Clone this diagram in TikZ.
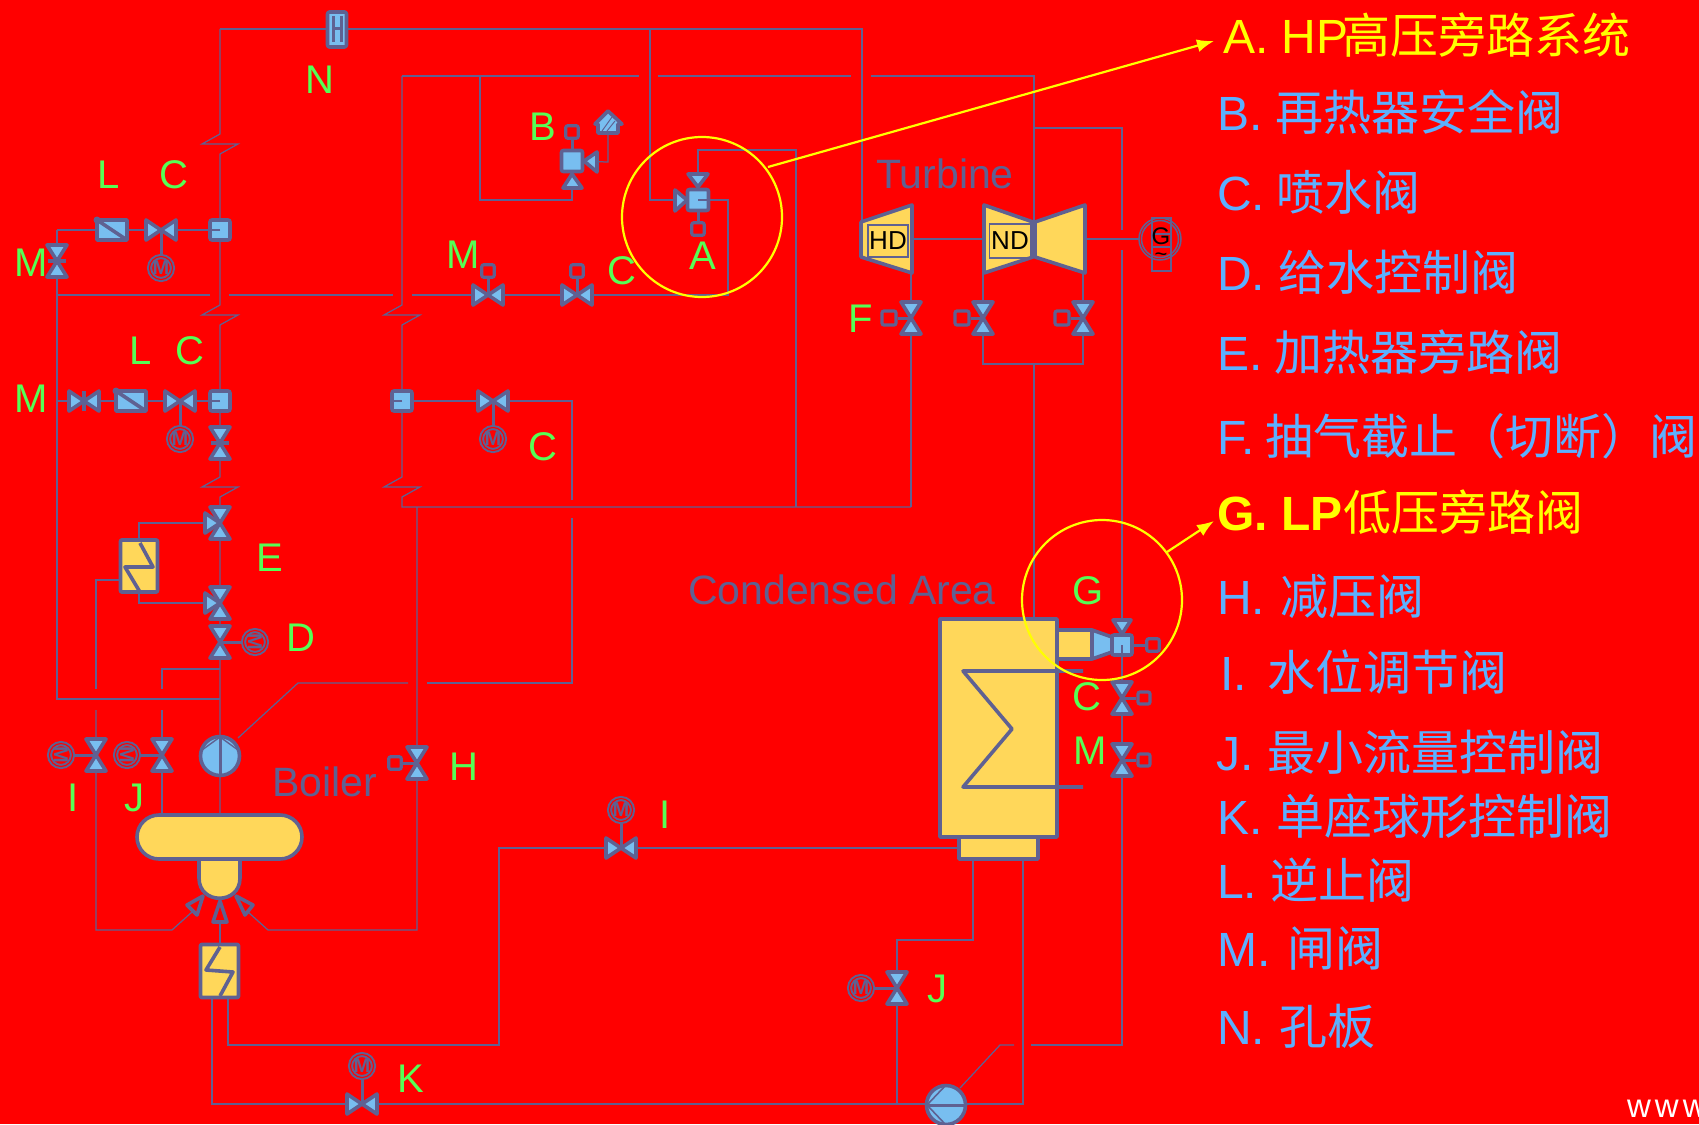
\documentclass[tikz,border=0pt]{standalone}
\usepackage{fontspec}
\setmainfont{Liberation Sans}
\newfontfamily\cjk{Noto Sans CJK SC}
\usetikzlibrary{arrows.meta,calc}
\definecolor{lc}{HTML}{5F6192}
\definecolor{vb}{HTML}{78BEF0}
\definecolor{yf}{HTML}{FFD75A}
\definecolor{lg}{HTML}{55FF55}
\definecolor{lb}{HTML}{5CB0FF}
\definecolor{hy}{HTML}{FFFF00}
\newcommand{\fsz}[1]{\fontsize{#1}{#1}\selectfont}
\newcommand{\zigv}[2]{-- (#1,#2-10) -- (#1-18,#2) -- (#1+18,#2) -- (#1,#2+10)}
\newcommand{\leg}[7]{\node[legend,text=#7,#6] (#1) at (1217,#2+1) {\makebox[#3pt][l]{#4}{\cjk #5}};}
\tikzset{
  x=1pt,y=-1pt,
  pipe/.style={draw=lc,line width=1.25pt,line join=miter},
  symb/.style={draw=lc,line width=3.6pt,line join=round},
  stem/.style={draw=lc,line width=3pt},
  hilite/.style={draw=hy,line width=2.2pt},
  lab/.style={text=lg,font=\fsz{40},inner sep=0pt,xshift=1pt,yshift=-1pt},
  sect/.style={text=lc,font=\fsz{41},inner sep=0pt},
  legend/.style={anchor=base west,inner sep=0pt,font=\fsz{48}},
  motor/.style={circle,draw=lc,line width=2pt,double=red,double distance=1.1pt,minimum size=23pt,inner sep=0pt,text=lc,font=\bfseries\fsz{20},fill=red},
  smallbox/.style={rectangle,draw=lc,line width=3.2pt,rounded corners=2pt,minimum size=12.5pt,inner sep=0pt,fill=red},
  bluebox/.style={rectangle,draw=lc,line width=3.6pt,rounded corners=2pt,minimum size=20pt,inner sep=0pt,fill=vb},
  hourglass/.pic={\draw[symb,fill=vb] (-10,-16)--(10,-16)--(-10,16)--(10,16)--cycle;},
  bowtie/.pic={\draw[symb,fill=vb] (-15,-10)--(15,10)--(15,-10)--(-15,10)--cycle;},
  hbar/.pic={\draw[symb] (-9,0)--(9,0);},
  vbar/.pic={\draw[symb] (0,-10)--(0,10);},
  triright/.pic={\draw[symb,fill=vb] (-15,-10)--(-15,10)--(0,0)--cycle;},
  checkv/.pic={\draw[symb,fill=vb] (-15,-10) rectangle (15,10); \draw[symb] (-15,-10)--(15,10); \fill[lc] (-15,-10) circle (3.5);},
}
\begin{document}
\begin{tikzpicture}
\useasboundingbox (0,0) rectangle (1699,1124);
\fill[red] (0,0) rectangle (1699,1124);

% device positions
\coordinate (N) at (337,29);
\coordinate (SQ1) at (220,230);
\coordinate (SQ2) at (220,401);
\coordinate (SQ3) at (402,401);
\coordinate (Lu) at (112,230);
\coordinate (Cu) at (161,230);
\coordinate (Mu) at (57,261);
\coordinate (Ml) at (84,401);
\coordinate (Ll) at (131,401);
\coordinate (Cl) at (180,401);
\coordinate (Cr) at (493,401);
\coordinate (Mv) at (220,443);
\coordinate (E1) at (220,523);
\coordinate (E2) at (220,603);
\coordinate (Dv) at (220,642);
\coordinate (Pump) at (220,756);
\coordinate (VI) at (96,755);
\coordinate (VJ) at (162,755);
\coordinate (VH) at (417,763);
\coordinate (VB) at (572,161);
\coordinate (VA) at (698,200);
\coordinate (VMt) at (488,295);
\coordinate (VCt) at (577,295);
\coordinate (F1) at (911,318);
\coordinate (F2) at (983,318);
\coordinate (F3) at (1083,318);
\coordinate (VG) at (1122,645);
\coordinate (VC2) at (1122,698);
\coordinate (VM2) at (1122,760);
\coordinate (VI2) at (621,848);
\coordinate (VJ2) at (897,988);
\coordinate (VK) at (362,1104);
\coordinate (Pump2) at (946,1105);
% junctions and free ends
\coordinate (TL) at (220,29);
\coordinate (TR) at (862,29);
\coordinate (HDtop) at (862,222);
\coordinate (LPtop) at (1034,222);
\coordinate (J57a) at (57,230);
\coordinate (J57b) at (57,699);
\coordinate (R402) at (402,76);
\coordinate (Bus) at (911,507);
\coordinate (Hlow) at (417,930);
\coordinate (Ilow) at (96,930);

% pipes
\begin{scope}[pipe]
\draw (TL) -- (TR) -- (HDtop);
\draw (TL) \zigv{220}{144} -- (SQ1) \zigv{220}{315} -- (SQ2) \zigv{220}{487} -- (E1) -- (E2) -- (Dv) -- (Pump) -- (220,815);
\draw (J57a) -- (J57b) -- (220,699);
\draw (J57a) -- (SQ1);
\draw (57,401) -- (SQ2);
\draw (57,295) -- (210,295);
\draw (229,295) -- (393,295);
\draw (412,295) -- (728,295) -- (728,200) -- (VA);
\draw (R402) \zigv{402}{315} -- (SQ3) \zigv{402}{487} -- (402,507) -- (Bus);
\draw (SQ3) -- (Cr) -- (572,401) -- (572,500);
\draw (417,507) -- (VH) -- (Hlow) -- (268,930) -- (248,912);
\draw (96,710) -- (VI) -- (Ilow) -- (172,930) -- (192,912);
\draw (162,710) -- (VJ) -- (162,815);
\draw (162,689) -- (162,669) -- (220,669);
\draw (96,689) -- (96,580) -- (120,580);
\draw (R402) -- (639,76);
\draw (658,76) -- (851,76);
\draw (871,76) -- (1034,76) -- (LPtop);
\draw (480,76) -- (480,200) -- (572,200) -- (VB);
\draw (650,29) -- (650,200) -- (VA);
\draw (VA) -- (698,150) -- (796,150) -- (796,507);
\draw (608,133) -- (608,162) -- (VB);
\draw (139,540) -- (139,523) -- (E1);
\draw (139,593) -- (139,603) -- (E2);
\draw (F1) -- (911,273);
\draw (F1) -- (Bus);
\draw (F2) -- (983,273);
\draw (F2) -- (983,364) -- (1083,364) -- (F3) -- (1083,273);
\draw (1034,364) -- (1034,619);
\draw (912,239) -- (984,239);
\draw (1085,239) -- (1140,239);
\draw (1034,128) -- (1122,128) -- (1122,230);
\draw (1122,250) -- (VG) -- (VC2) -- (VM2) -- (1122,1045) -- (1031,1045);
\draw (1014,1045) -- (1000,1045) -- (960,1088);
\draw (572,518) -- (572,683) -- (427,683);
\draw (408,683) -- (298,683) -- (238,738);
\draw (959,848) -- (VI2) -- (499,848) -- (499,1045) -- (228,1045) -- (228,998);
\draw (212,998) -- (212,1104) -- (VK) -- (1023,1104) -- (1023,859);
\draw (973,859) -- (973,940) -- (897,940) -- (VJ2) -- (897,1104);
\draw (220,922) -- (220,944);
\end{scope}

% N orifice
\draw[symb,fill=vb,rounded corners=2pt] (327.5,12) rectangle (346.5,47);
\draw[stem] (333,16)--(333,42) (341,16)--(341,42) (333,29)--(341,29);

% left upper group
\pic at (Lu) {checkv};
\node[motor] (mCu) at (161,268) {M};
\draw[stem] (mCu) -- (Cu);
\pic at (Cu) {bowtie};
\node[bluebox] (bSQ1) at (SQ1) {};
\pic at (Mu) {hourglass};
\pic at (Mu) {hbar};

% left lower group
\pic at (Ml) {bowtie};
\pic at (Ml) {vbar};
\pic at (Ll) {checkv};
\node[motor] (mCl) at (180,439) {M};
\draw[stem] (mCl) -- (Cl);
\pic at (Cl) {bowtie};
\node[bluebox] (bSQ2) at (SQ2) {};
\pic at (Mv) {hourglass};
\pic at (Mv) {hbar};
\node[bluebox] (bSQ3) at (SQ3) {};
\node[motor] (mCr) at (493,439) {M};
\draw[stem] (mCr) -- (Cr);
\pic at (Cr) {bowtie};
\draw[pipe] (bSQ1.center) -- +(-8,0);
\draw[pipe] (bSQ2.center) -- +(-8,0);
\draw[pipe] (bSQ3.center) -- +(-8,0);

% E, D valves, feed heater
\pic at (E1) {hourglass}; \pic at (E1) {triright};
\pic at (E2) {hourglass}; \pic at (E2) {triright};
\node[motor,rotate=-90] (mD) at (255,642) {M};
\draw[stem] (mD) -- (Dv);
\pic at (Dv) {hourglass};
\node[symb,fill=yf,rectangle,rounded corners=1pt,minimum width=37pt,minimum height=52pt,inner sep=0pt] (HtA) at (139,566) {};
\draw[symb] (140,543)--(153,567)--(125,567)--(140,592);

% pump, I, J valves
\draw[symb,fill=vb] (Pump) circle (19.5);
\draw[stem] (220,737)--(220,775);
\draw[draw=lc,line width=1.4pt] (202,750)--(220,737)--(238,750);
\node[motor,rotate=-90] (mI) at (61,755) {M};
\draw[stem] (mI) -- (VI);
\pic at (VI) {hourglass};
\node[motor,rotate=-90] (mJ) at (127,755) {M};
\draw[stem] (mJ) -- (VJ);
\pic at (VJ) {hourglass};

% boiler
\draw[symb,fill=yf] (199,855) -- (199,878) .. controls (199,905) and (240,905) .. (240,878) -- (240,855) -- cycle;
\draw[symb,fill=yf,rounded corners=22pt] (137,815) rectangle (302,859);
\draw[symb,fill=red] (203,896)--(187,905)--(197,915)--cycle;
\draw[symb,fill=red] (220,901)--(213,922)--(227,922)--cycle;
\draw[symb,fill=red] (236,896)--(253,905)--(245,915)--cycle;
\node[symb,fill=yf,rectangle,rounded corners=1pt,minimum width=38pt,minimum height=53pt,inner sep=0pt] (HtB) at (219.5,971) {};
\draw[symb] (220,947)--(206,970)--(233,972)--(220,996);

% H valve
\node[smallbox] (bH) at (395,763) {};
\draw[stem] (bH) -- (VH);
\pic at (VH) {hourglass};

% K valve
\node[motor] (mK) at (362,1066) {M};
\draw[stem] (mK) -- (VK);
\pic at (VK) {bowtie};

% B valve
\node[smallbox] (bB) at (572,132) {};
\draw[stem] (bB) -- (VB);
\node[bluebox,minimum size=21pt] (bVB) at (VB) {};
\draw[symb,fill=vb] (584,161)--(597,152)--(597,172)--cycle;
\draw[symb,fill=vb] (572,174)--(563,188)--(582,188)--cycle;
\draw[symb,fill=vb] (608,111)--(595,124)--(598,124)--(598,133)--(618,133)--(618,124)--(622,124)--cycle;
\draw[draw=lc,line width=1pt] (602,131)--(612,117) (607,131)--(615,121);

% A valve
\node[smallbox] (bA) at (698,229) {};
\draw[stem] (bA) -- (VA);
\node[bluebox,minimum size=21pt] (bVA) at (VA) {};
\draw[symb,fill=vb] (698,187)--(688,174)--(708,174)--cycle;
\draw[symb,fill=vb] (687,200)--(675,190)--(675,211)--cycle;
\draw[pipe] (bVA.center) -- +(10,0);

% M and C on the crossover
\node[smallbox] (bMt) at (488,271) {};
\draw[stem] (bMt) -- (VMt);
\pic at (VMt) {bowtie};
\node[smallbox] (bCt) at (577,271) {};
\draw[stem] (bCt) -- (VCt);
\pic at (VCt) {bowtie};

% turbines
\draw[symb,fill=yf] (861,222)--(912,205)--(912,273)--(861,257)--cycle;
\node[draw=lc,line width=1.6pt,minimum width=40pt,minimum height=32pt,inner sep=0pt,font=\fsz{26}] (HD) at (888,241) {HD};
\draw[symb,fill=yf] (984,205)--(1033,222)--(1033,257)--(984,273)--cycle;
\node[draw=lc,line width=1.6pt,minimum width=41pt,minimum height=34pt,inner sep=0pt,font=\fsz{26}] (ND) at (1010,241) {ND};
\draw[symb,fill=yf] (1035,222)--(1085,205)--(1085,273)--(1035,257)--cycle;
\draw[draw=lc,line width=1.5pt] (1160,239) circle (21);
\draw[draw=lc,line width=1.5pt] (1160,239) circle (18.5);
\draw[draw=lc,line width=1.4pt] (1152,218) rectangle (1171,271);
\draw[draw=lc,line width=1.4pt] (1152,234) -- (1171,234) (1152,247) -- (1171,247);
\node[font=\fsz{24},inner sep=0pt] (Gn) at (1161,236) {G};
\node[font=\fsz{22},inner sep=0pt] (Gt) at (1161,257) {\char"007E};

% F valves
\node[smallbox,minimum width=14pt,minimum height=14pt] (bF1) at (889,318) {};
\draw[stem] (bF1) -- (F1);
\pic at (F1) {hourglass};
\node[smallbox,minimum width=14pt,minimum height=14pt] (bF2) at (962,318) {};
\draw[stem] (bF2) -- (F2);
\pic at (F2) {hourglass};
\node[smallbox,minimum width=14pt,minimum height=14pt] (bF3) at (1062,318) {};
\draw[stem] (bF3) -- (F3);
\pic at (F3) {hourglass};

% condenser
\draw[symb,fill=yf] (959,837) rectangle (1038,859);
\draw[symb,fill=yf] (940,619) rectangle (1057,837);
\draw[symb] (1083,671)--(963,671)--(1012,729)--(963,787)--(1083,787);
\draw[symb,fill=yf] (1057,630) rectangle (1092,659);
\draw[symb,fill=vb] (1092,630)--(1112,637)--(1112,652)--(1092,659)--cycle;
\node[smallbox] (bG) at (1153,645) {};
\draw[stem] (bG) -- (VG);
\node[bluebox] (bVG) at (VG) {};
\draw[pipe] (bVG.center) -- +(0,9);
\draw[symb,fill=vb] (1122,634)--(1113,620)--(1131,620)--cycle;
\node[smallbox,minimum size=12pt] (bC2) at (1144,698) {};
\draw[stem] (bC2) -- (VC2);
\pic at (VC2) {hourglass};
\node[smallbox,minimum size=12pt] (bM2) at (1144,760) {};
\draw[stem] (bM2) -- (VM2);
\pic at (VM2) {hourglass};

% I and J on the condensate side
\node[motor] (mI2) at (621,810) {M};
\draw[stem] (mI2) -- (VI2);
\pic at (VI2) {bowtie};
\node[motor] (mJ2) at (861,988) {M};
\draw[stem] (mJ2) -- (VJ2);
\pic at (VJ2) {hourglass};
\draw[symb,fill=vb] (Pump2) circle (19.5);
\draw[stem] (927,1105)--(965,1105);
\draw[draw=lc,line width=1.6pt] (945,1086)--(927,1105)--(945,1124);

% labels
\node[lab] (tN) at (319,79) {N};
\node[lab] (tL1) at (108,174) {L};
\node[lab] (tC1) at (173,174) {C};
\node[lab] (tM1) at (30,262) {M};
\node[lab] (tL2) at (140,350) {L};
\node[lab] (tC2) at (189,350) {C};
\node[lab] (tM2) at (30,398) {M};
\node[lab] (tE) at (269,557) {E};
\node[lab] (tD) at (300,637) {D};
\node[lab] (tI) at (72,797) {I};
\node[lab] (tJ) at (133,797) {J};
\node[lab] (tH) at (463,766) {H};
\node[lab] (tC3) at (542,446) {C};
\node[lab] (tB) at (542,126) {B};
\node[lab] (tM3) at (462,254) {M};
\node[lab] (tC4) at (621,270) {C};
\node[lab] (tA) at (702,255) {A};
\node[lab] (tI2) at (664,814) {I};
\node[lab] (tJ2) at (936,988) {J};
\node[lab] (tK) at (410,1078) {K};
\node[lab] (tF) at (860,318) {F};
\node[lab] (tG) at (1087,590) {G};
\node[lab] (tC5) at (1086,696) {C};
\node[lab] (tM4) at (1089,750) {M};
\node[sect] (tBoiler) at (325,782) {Boiler};
\node[sect] (tCond) at (842,590) {Condensed Area};
\node[sect] (tTurb) at (945,174) {Turbine};

% highlight circles and arrows
\node[circle,hilite,minimum size=160pt,inner sep=0pt] (cA) at (702,217) {};
\node[circle,hilite,minimum size=160pt,inner sep=0pt] (cG) at (1102,600) {};
\coordinate (aA) at (1214,41);
\coordinate (aG) at (1214,521);
\draw[hilite,-{Latex[length=17pt,width=13pt]}] (cA) ++(66,-50) -- (aA);
\draw[hilite,-{Latex[length=17pt,width=13pt]}] (cG) ++(65,-48) -- (aG);

% legend
\leg{lA}{52}{119}{A. HP}{高压旁路系统}{xshift=6pt}{hy}
\leg{lB}{129}{58}{B.}{再热器安全阀}{}{lb}
\leg{lC}{209}{59}{C.}{喷水阀}{}{lb}
\leg{lD}{289}{61}{D.}{给水控制阀}{}{lb}
\leg{lE}{369}{57}{E.}{加热器旁路阀}{}{lb}
\leg{lF}{453}{48}{F.}{抽气截止（切断）阀}{}{lb}
\leg{lG}{529}{126}{\bfseries G. LP}{低压旁路阀}{}{hy}
\leg{lH}{613}{63}{H.}{减压阀}{}{lb}
\leg{lI}{689}{47}{I.}{水位调节阀}{xshift=3pt}{lb}
\leg{lJ}{769}{51}{J.}{最小流量控制阀}{xshift=-1pt}{lb}
\leg{lK}{833}{59}{K.}{单座球形控制阀}{}{lb}
\leg{lL}{897}{53}{L.}{逆止阀}{}{lb}
\leg{lM}{965}{70}{M.}{闸阀}{}{lb}
\leg{lN}{1043}{62}{N.}{孔板}{}{lb}
\node[anchor=base west,inner sep=0pt,text=white,font=\fsz{33}\addfontfeature{LetterSpace=12}] (www) at (1627,1117) {www};
\end{tikzpicture}
\end{document}
